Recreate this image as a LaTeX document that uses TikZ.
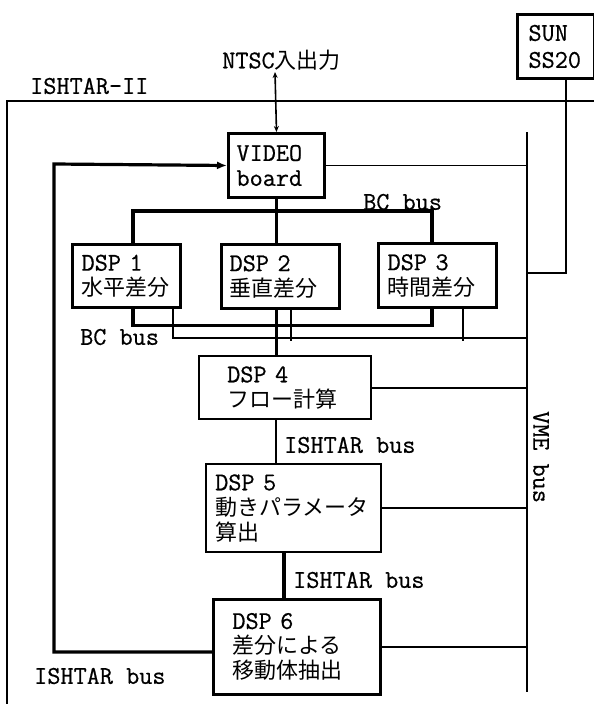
\documentclass[tikz,border=0pt]{standalone}
\usepackage{fontspec}
\setmainfont{Latin Modern Mono}[FakeBold=0.6]
\newfontfamily\jpfont{Noto Sans CJK JP}
\usetikzlibrary{arrows.meta,calc}
\newcommand\jtext[1]{{\jpfont\fontsize{22}{25}\selectfont #1}}
\tikzset{
  txt/.style={font=\fontsize{25.5}{25}\selectfont, inner sep=0pt},
  boxnode/.style={draw, line width=3pt, fill=white, anchor=north west,
    font=\fontsize{25.5}{25}\selectfont, align=left, inner ysep=0pt},
  bus/.style={line width=3.2pt},
  thinline/.style={line width=1.6pt},
}
\begin{document}
\begin{tikzpicture}[x=1pt,y=-1pt]
\useasboundingbox (0,0) rectangle (594,704);
% frame
\draw[thinline] (594,101) -- (7,101) -- (7,704);
\node[txt, anchor=west] (ishtar) at (30,86) {ISHTAR-II};
% boxes
\node[boxnode, minimum width=77pt, minimum height=64pt, inner xsep=11pt, text width=55pt] (sun) at (516,13) {SUN\\[2pt]SS20};
\node[boxnode, minimum width=96pt, minimum height=64pt, inner xsep=8pt, text width=80pt] (video) at (227,132) {VIDEO\\board};
\node[boxnode, line width=3.2pt, minimum width=108pt, minimum height=63pt, inner xsep=9pt, text width=90pt] (dsp1) at (71,243) {DSP 1\\\jtext{水平差分}};
\node[boxnode, line width=3.2pt, minimum width=118pt, minimum height=64pt, inner xsep=8pt, text width=102pt] (dsp2) at (220,243) {DSP 2\\\jtext{垂直差分}};
\node[boxnode, line width=3.2pt, minimum width=118pt, minimum height=64pt, inner xsep=9pt, text width=100pt] (dsp3) at (377,242) {DSP 3\\\jtext{時間差分}};
\node[boxnode, line width=2.4pt, minimum width=172pt, minimum height=63pt, inner xsep=28pt, text width=116pt] (dsp4) at (198,355) {DSP 4\\\jtext{フロー計算}};
\node[boxnode, line width=2.4pt, minimum width=175pt, minimum height=88pt, inner xsep=9pt, text width=157pt] (dsp5) at (205,463) {DSP 5\\\jtext{動きパラメータ}\\\jtext{算出}};
\node[boxnode, line width=2.8pt, minimum width=167pt, minimum height=95pt, inner xsep=19pt, text width=129pt] (dsp6) at (212,598) {DSP 6\\\jtext{差分による}\\\jtext{移動体抽出}};
% NTSC
\node[txt] (ntsc) at (281.5,60) {NTSC\jtext{入出力}};
\coordinate (ntscend) at (275,72);
\draw[thinline, {Stealth[length=6pt,width=5pt]}-{Stealth[length=6pt,width=5pt]}] (ntscend) -- (video.north);
% VME bus
\coordinate (vmetop) at (527,132);
\coordinate (vmebot) at (527,692);
\draw[thinline] (vmetop) -- (vmebot);
\node[txt, rotate=-90] (vmelabel) at (541,457) {VME bus};
% SUN link
\coordinate (sunout) at (566,77);
\coordinate (vmesun) at (527,273);
\draw[thinline] (sunout) |- (vmesun);
% VIDEO to VME
\draw[thinline] (video.east) -- (video.east -| vmetop);
% loop
\coordinate (loopend) at (212,652);
\coordinate (loopcorner) at (54,164);
\draw[bus, -{Latex[length=10pt,width=8pt]}] (loopend) -| (loopcorner) -- (video.west);
\node[txt, anchor=west] (ishtarbus3) at (34,676) {ISHTAR bus};
% BC bus top
\draw[bus] ($(dsp1.north west)+(62,0)$) |- ($(dsp3.north west)+(55,-31)$) -- ($(dsp3.north west)+(55,0)$);
\node[txt, anchor=west] (bctop) at (363,202) {BC bus};
% center line
\draw[bus] (video.south) -- (video.south |- dsp2.north);
\draw[bus] (dsp2.south -| video.south) -- (dsp4.north -| video.south);
% BC bus bottom
\draw[bus] ($(dsp1.south west)+(62,0)$) |- ($(dsp3.south west)+(55,16)$) -- ($(dsp3.south west)+(55,0)$);
\node[txt, anchor=west] (bcbot) at (80,337) {BC bus};
% thin VME links for DSP1-3
\coordinate (vme338) at (527,338);
\draw[thinline] ($(dsp1.south west)+(102,0)$) |- (vme338);
\draw[thinline] ($(dsp2.south west)+(71,0)$) -- ($(dsp2.south west)+(71,31)$);
\draw[thinline] ($(dsp3.south west)+(86,0)$) -- ($(dsp3.south west)+(86,32)$);
% DSP4-6
\draw[thinline] (dsp4.east) -- (dsp4.east -| vmetop);
\draw[line width=2.4pt] ($(dsp4.south west)+(78,0)$) -- ($(dsp5.north west)+(71,0)$);
\node[txt, anchor=west] (ishtarbus1) at (284,445) {ISHTAR bus};
\draw[thinline] (dsp5.east) -- (dsp5.east -| vmetop);
\draw[bus] ($(dsp5.south west)+(79,0)$) -- ($(dsp6.north west)+(72,0)$);
\node[txt, anchor=west] (ishtarbus2) at (293,580) {ISHTAR bus};
\draw[thinline] (dsp6.east) -- (dsp6.east -| vmetop);
\end{tikzpicture}
\end{document}
